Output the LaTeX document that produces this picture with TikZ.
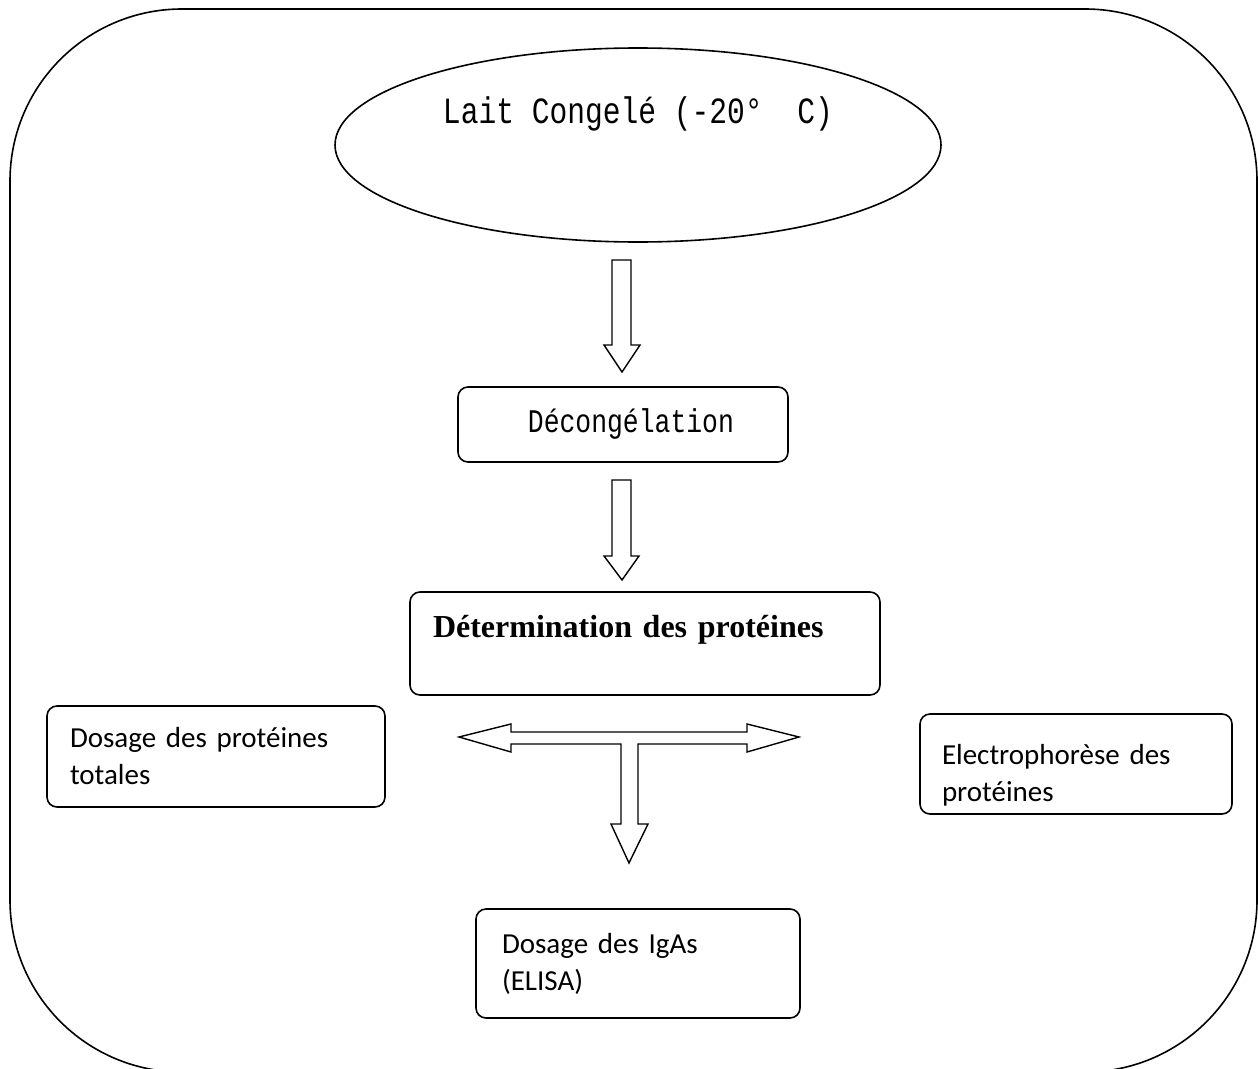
\documentclass[tikz,border=0pt]{standalone}
\usepackage{fontspec}
\usetikzlibrary{shapes.geometric}
\newfontfamily\simfont[FakeStretch=0.8]{Liberation Mono}
\newfontfamily\calibrifont{Carlito}
\newfontfamily\timesfont{Liberation Serif}

\begin{document}
\begin{tikzpicture}[x=1pt,y=-1pt,
	boite/.style={draw, rounded corners=10pt, line width=1.6pt, inner ysep=0pt},
	petit/.style={font=\calibrifont\fontsize{29}{37}\selectfont, align=left}]
	\useasboundingbox (0,0) rectangle (1258,1068);
	\clip (0,0) rectangle (1258,1068);
	%outer frame
		\draw[line width=1.6pt, rounded corners=172pt] (10,9) rectangle (1257,1072);
	%frozen milk
		\node[ellipse, draw, line width=1.6pt, minimum width=606pt, minimum height=194pt, inner sep=0pt, text height=26pt, text depth=70pt, font=\simfont\fontsize{37}{44}\selectfont] (lait) at (638,145) {Lait Congelé (-20°\hspace{17pt} C)};
	%steps
		\node[boite, minimum width=330pt, minimum height=75pt, inner xsep=0pt, text height=25pt, text depth=10pt, font=\simfont\fontsize{33}{40}\selectfont] (decong) at (623,424.5) {\ Décongélation};
		\node[boite, text width=424pt, inner xsep=23pt, minimum height=103pt, text height=24pt, text depth=37pt, align=left, font=\timesfont\bfseries\fontsize{32}{38}\selectfont] (determ) at (645,643.5) {Détermination des protéines};
	%analyses
		\node[boite, petit, text width=292pt, inner xsep=23pt, minimum height=101pt] (totales) at (216,756.5) {Dosage des protéines\\totales};
		\node[boite, petit, text width=268pt, inner xsep=22pt, minimum height=100pt, text depth=20pt] (electro) at (1076,764) {Electrophorèse des\\protéines};
		\node[boite, petit, text width=272pt, inner xsep=26pt, minimum height=109pt] (igas) at (638,963.5) {Dosage des IgAs\\(ELISA)};
	%arrow 1
		\draw[line width=1.4pt] (612,260) -- (631,260) -- (631,345) -- (640,345) -- (622,372) -- (604,345) -- (612,345) -- cycle;
	%arrow 2
		\draw[line width=1.4pt] (612,480) -- (631,480) -- (631,556) -- (639,556) -- (622,580) -- (604,556) -- (612,556) -- cycle;
	%T arrow
		\draw[line width=1.4pt] (459,737) -- (511,724) -- (511,732) -- (747,732) -- (747,724) -- (799,737) -- (747,752) -- (747,744) -- (638,744) -- (638,824) -- (648,824) -- (629,863) -- (611,824) -- (621,824) -- (621,744) -- (511,744) -- (511,752) -- cycle;
\end{tikzpicture}
\end{document}
